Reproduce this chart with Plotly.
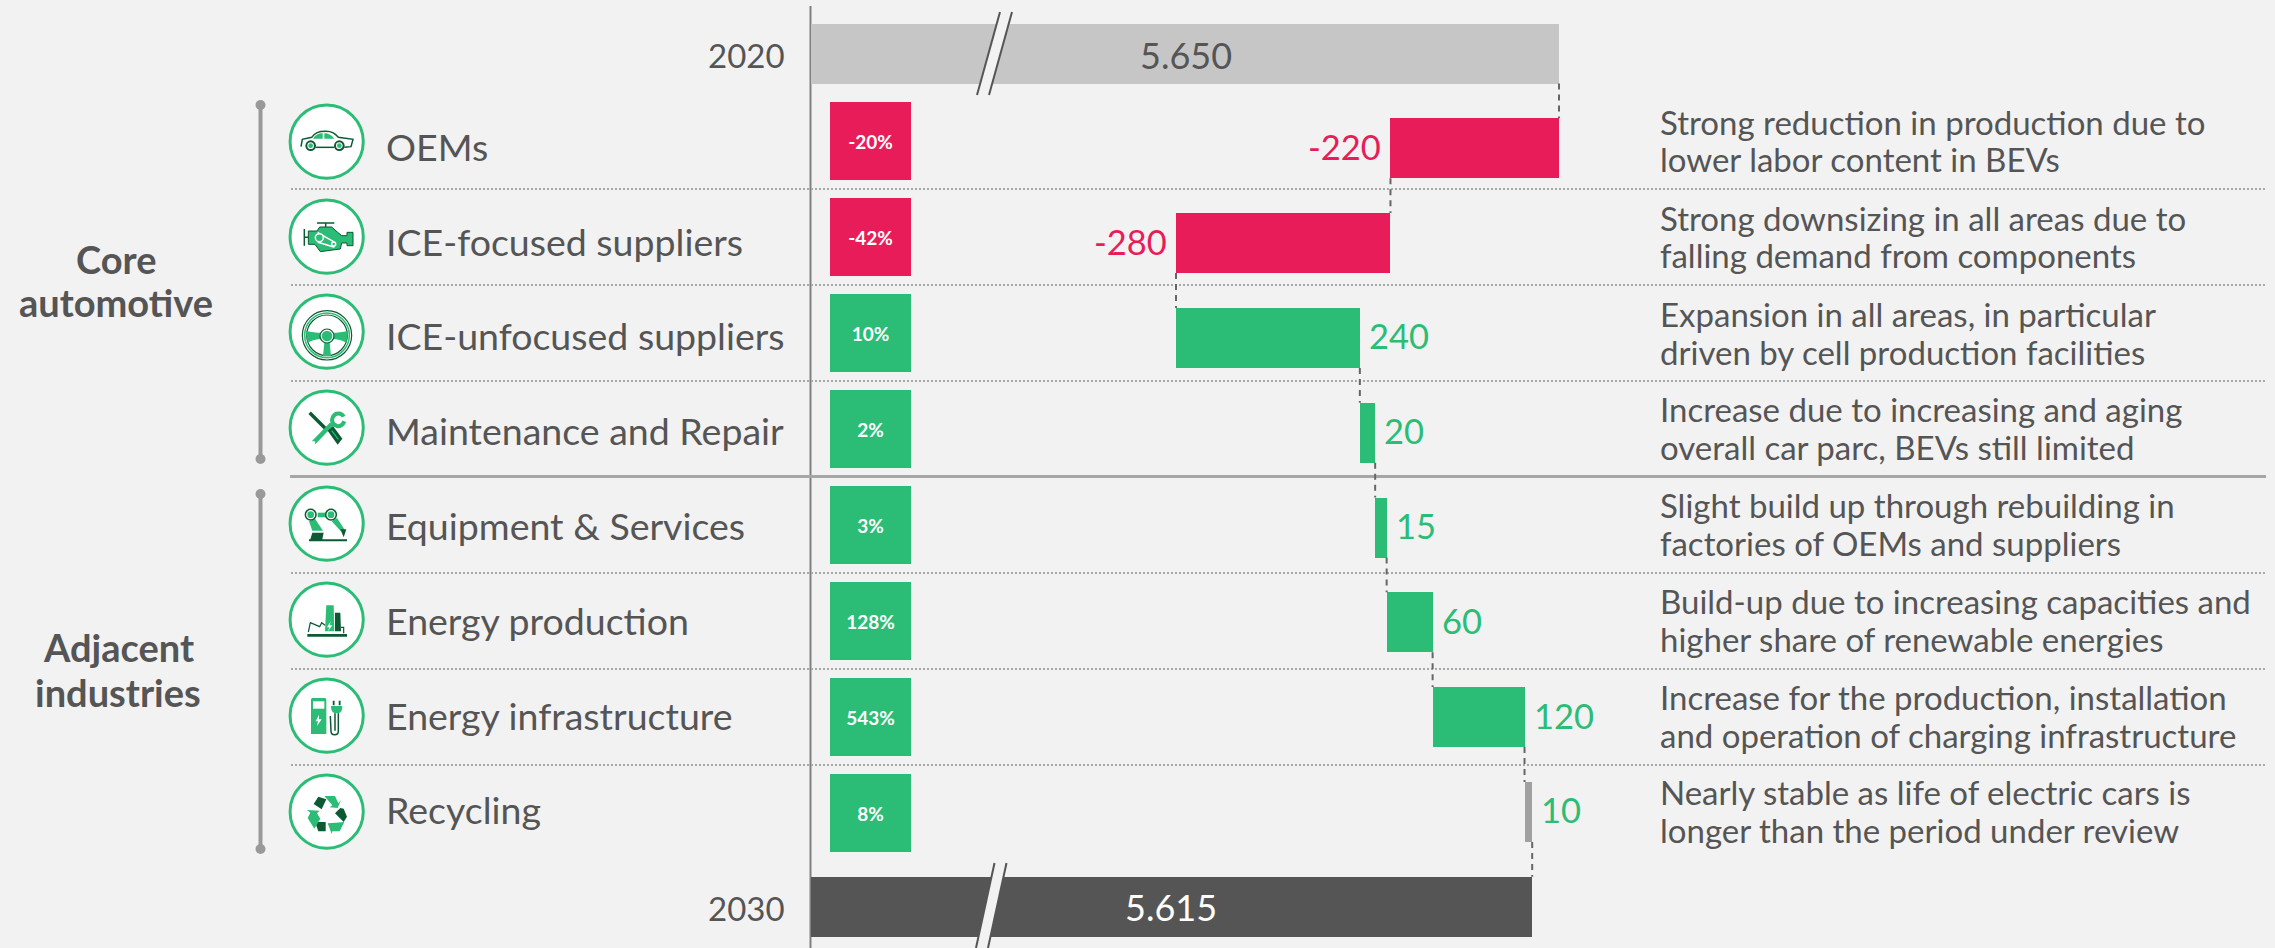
import re
import plotly.graph_objects as go

# ---------- data ----------
years = ["2020", "2030"]
totals = [5650, 5615]
total_labels = ["5.650", "5.615"]
categories = ["OEMs", "ICE-focused suppliers", "ICE-unfocused suppliers", "Maintenance and Repair",
              "Equipment &amp; Services", "Energy production", "Energy infrastructure", "Recycling"]
deltas = [-220, -280, 240, 20, 15, 60, 120, 10]
share_change = ["-20%", "-42%", "10%", "2%", "3%", "128%", "543%", "8%"]
comments = [
    ["Strong reduction in production due to", "lower labor content in BEVs"],
    ["Strong downsizing in all areas due to", "falling demand from components"],
    ["Expansion in all areas, in particular", "driven by cell production facilities"],
    ["Increase due to increasing and aging", "overall car parc, BEVs still limited"],
    ["Slight build up through rebuilding in", "factories of OEMs and suppliers"],
    ["Build-up due to increasing capacities and", "higher share of renewable energies"],
    ["Increase for the production, installation", "and operation of charging infrastructure"],
    ["Nearly stable as life of electric cars is", "longer than the period under review"],
]
groups = [["Core", "automotive"], ["Adjacent", "industries"]]

# ---------- style ----------
W, H = 2275, 948
BG = "#F2F2F2"; GREEN = "#2BBC76"; DARKG = "#0B5A33"; PINK = "#E81C58"
TXT = "#555555"; LIGHT = "#C6C6C6"; DARK = "#555555"; GREY = "#A0A0A0"
FONT = "Lato"
px_per_unit = 0.766
axis_start = 5650 - (1559 - 810.5) / px_per_unit
x_range = [5650 - 1559 / px_per_unit, 5650 + (W - 1559) / px_per_unit]
row_pitch, row_top = 94.8, 53.5
y_range = [(H - row_top) / row_pitch, -row_top / row_pitch]
half_bar = 30 / row_pitch
box_pitch, box_top = 96.0, 140.7
y2_range = [(H - box_top) / box_pitch, -box_top / box_pitch]

# ---------- waterfall ----------
n = len(categories)
starts, ends, running = [], [], totals[0]
for d in deltas:
    starts.append(running); running += d; ends.append(running)
rows = list(range(1, n + 1))
bar_colors = [PINK if d < 0 else GREEN for d in deltas]
bar_colors[-1] = GREY

fig = go.Figure()
fig.add_trace(go.Bar(y=[0, n + 1], x=[t - axis_start for t in totals], base=[axis_start] * 2,
                     orientation="h", width=2 * half_bar, marker=dict(color=[LIGHT, DARK], line_width=0),
                     showlegend=False, hoverinfo="skip"))
fig.add_trace(go.Bar(y=rows, x=deltas, base=starts, orientation="h", width=2 * half_bar,
                     marker=dict(color=bar_colors, line_width=0), showlegend=False))

# connectors
levels = [totals[0]] + ends
for i, lv in enumerate(levels):
    fig.add_trace(go.Scatter(x=[lv, lv], y=[i + half_bar, i + 1 - half_bar], mode="lines",
                             line=dict(color="#666666", width=2, dash="6px,5px"),
                             showlegend=False, hoverinfo="skip"))

# share-change boxes on a second, pixel-like x axis
fig.add_trace(go.Bar(y=list(range(n)), x=[81] * n, base=[830] * n, orientation="h", width=78 / box_pitch,
                     marker=dict(color=[PINK if s.startswith("-") else GREEN for s in share_change], line_width=0),
                     text=share_change, textposition="inside", insidetextanchor="middle", textangle=0,
                     constraintext="none", textfont=dict(family=FONT, size=19, color="white", weight="bold"),
                     xaxis="x2", yaxis="y2", showlegend=False))

# ---------- helpers ----------
shapes, ann = [], []
def px(x): return x / W
def py(y): return 1 - y / H
def line(x0, y0, x1, y1, color, width, dash="solid", layer="below"):
    shapes.append(dict(type="line", xref="paper", yref="paper", x0=px(x0), y0=py(y0), x1=px(x1), y1=py(y1),
                       line=dict(color=color, width=width, dash=dash), layer=layer))
def circle(cx, cy, r, fill="rgba(0,0,0,0)", color="rgba(0,0,0,0)", width=0):
    shapes.append(dict(type="circle", xref="paper", yref="paper", x0=px(cx - r), x1=px(cx + r),
                       y0=py(cy + r), y1=py(cy - r), fillcolor=fill, line=dict(color=color, width=width)))
def path(d, ox, oy, fill=None, color=None, width=0, s=1 / 3):
    toks = re.findall(r"[MLCQZ]|-?[\d.]+", d)
    out, is_x = [], True
    for t in toks:
        if t.isalpha():
            out.append(t); is_x = True
        else:
            v = float(t)
            out.append(f"{px(ox + v * s):.6f}" if is_x else f"{py(oy + v * s):.6f}")
            is_x = not is_x
    shapes.append(dict(type="path", xref="paper", yref="paper", path=" ".join(out),
                       fillcolor=fill or "rgba(0,0,0,0)",
                       line=dict(color=color or "rgba(0,0,0,0)", width=width)))
def text(x, y, s, size=36, color=TXT, anchor="left", bold=False):
    ann.append(dict(xref="paper", yref="paper", x=px(x), y=py(y), text=s, showarrow=False, xanchor=anchor,
                    yanchor="middle", align=anchor,
                    font=dict(family=FONT, size=size, color=color, weight="bold" if bold else "normal")))

# ---------- frame ----------
line(810.5, 6, 810.5, H, "#808080", 2)
for y in [189, 285, 381, 573, 669, 765]:
    line(291, y, 2266, y, "#A8A8A8", 2, "2px,2px")
line(290, 476.5, 2266, 476.5, "#A6A6A6", 3)
for y0, y1 in [(105, 459), (494, 849)]:
    line(260.5, y0, 260.5, y1, "#999999", 4, layer="above")
    circle(260.5, y0, 5, "#999999"); circle(260.5, y1, 5, "#999999")

# axis-break marks
for (xb, xt, yb, yt, c) in [(977, 1000, 95, 12, "#555555"), (976, 994.5, 948, 863, "#555555")]:
    path(f"M{xb} {yb} L{xt} {yt} L{xt + 12} {yt} L{xb + 12} {yb} Z", 0, 0, fill=BG, s=1)
    line(xb, yb, xt, yt, c, 2, layer="above"); line(xb + 12, yb, xt + 12, yt, c, 2, layer="above")

# ---------- texts ----------
text(787, 55, years[0], 33, anchor="right"); text(787, 908, years[1], 33, anchor="right")
text(1186, 55, total_labels[0], anchor="center")
text(1171, 907, total_labels[1], color="white", anchor="center")
text(116, 259, groups[0][0], 38, TXT, "center", True); text(116, 302, groups[0][1], 38, TXT, "center", True)
text(118, 647, groups[1][0], 38, TXT, "center", True); text(118, 692, groups[1][1], 38, TXT, "center", True)
comment_cy = [140.5, 236.5, 332.5, 428, 524, 620, 716, 811]
for i, (c, m) in enumerate(zip(categories, comments)):
    ann.append(dict(x=0, xref="paper", xanchor="left", xshift=384, y=rows[i], yref="y", yshift=2, text=c, showarrow=False,
                    font=dict(family=FONT, size=37.5, color=TXT), yanchor="middle"))
    text(1658, comment_cy[i] - 19, m[0], 33)
    text(1658, comment_cy[i] + 19, m[1], 33)
    neg = deltas[i] < 0
    ann.append(dict(x=ends[i], y=rows[i], xref="x", yref="y", yshift=2, text=str(deltas[i]), showarrow=False,
                    xanchor="right" if neg else "left", xshift=-7 if neg else 7, yanchor="middle",
                    font=dict(family=FONT, size=34.5, color=PINK if neg else GREEN)))

# ---------- icons (drawn in a 0-255 local frame, 1/3 px per unit) ----------
icon_y0 = [100, 195, 290, 386, 482, 578, 674, 770]
OX = 285
for y0 in icon_y0:
    circle(OX + 125 / 3, y0 + 125 / 3, 36.6, "white", GREEN, 3)
def C(u, v, r, ox, oy, **k):
    circle(ox + u / 3, oy + v / 3, r / 3, **k)

# car
o = icon_y0[0]
path("M48 140 L52 118 L80 112 C90 98 100 94 122 94 C142 94 150 100 160 112 L204 118 L198 140 L178 142", OX, o, color=DARKG, width=1.5)
path("M84 116 C92 104 100 100 113 100 L113 116 Z", OX, o, fill=GREEN)
path("M118 100 C130 100 138 104 148 116 L118 116 Z", OX, o, fill=GREEN)
path("M92 142 L148 142", OX, o, color=DARKG, width=1.5)
for u in (77, 163):
    C(u, 137, 13, OX, o, fill="white", color=DARKG, width=2); C(u, 137, 7, OX, o, fill=GREEN)
# engine
o = icon_y0[1]
path("M70 108 L96 108 L104 96 L140 96 L158 112 L170 122 L186 122 L186 112 L204 112 L204 152 L186 152 L186 144 L170 144 L166 162 L106 170 L90 148 L70 148 Z", OX, o, fill=GREEN, color=DARKG, width=1)
path("M96 84 L148 84 M122 84 L122 96 M58 102 L58 152 M58 127 L70 127", OX, o, color=DARKG, width=1.5)
path("M100 114 L146 140 L146 156 L100 142 Z", OX, o, color="white", width=1.5)
C(103, 128, 12, OX, o, color="white", width=1.5, fill=GREEN); C(146, 147, 6, OX, o, color="white", width=1.5, fill=GREEN)
# wheel
o = icon_y0[2]
C(126, 136, 74, OX, o, fill="white", color=DARKG, width=1.2)
C(126, 136, 67, OX, o, color=GREEN, width=1.5)
C(126, 136, 61, OX, o, color=DARKG, width=1.2)
path("M62 122 C80 126 95 128 108 128 L108 146 C90 148 76 152 68 158 Z", OX, o, fill=GREEN)
path("M190 122 C172 126 157 128 144 128 L144 146 C162 148 176 152 184 158 Z", OX, o, fill=GREEN)
path("M118 158 L134 158 L138 198 L114 198 Z", OX, o, fill=GREEN)
C(126, 138, 21, OX, o, fill="white", color=DARKG, width=1.2); C(126, 138, 16, OX, o, fill=GREEN)
# tools
o = icon_y0[3]
path("M74 80 L128 134", OX, o, color=DARKG, width=3.5)
path("M86 170 L140 114", OX, o, color=GREEN, width=4.5)
path("M176 92 C170 80 152 78 144 92 C138 104 142 116 156 120 C166 122 174 116 178 106", OX, o, color=GREEN, width=4)
path("M128 134 L144 120 L172 158 L158 176 Z", OX, o, fill=DARKG)
path("M140 134 L160 160", OX, o, color=GREEN, width=1.2)
C(86, 170, 5, OX, o, fill="white")
# robot
o = icon_y0[4]
path("M72 178 L186 178 L186 172 L112 172 L116 152 L82 152 L76 172 L72 172 Z", OX, o, fill=DARKG)
path("M72 118 L90 110 L114 146 L82 146 Z", OX, o, fill=GREEN)
path("M98 92 L124 92 L124 106 L98 106 Z", OX, o, fill=GREEN)
path("M140 118 L156 108 L178 142 L168 148 Z", OX, o, fill=GREEN)
path("M166 142 L184 142 L176 166 Z", OX, o, fill=DARKG)
for u in (77, 138):
    C(u, 98, 16, OX, o, fill="white", color=DARKG, width=1.5); C(u, 98, 10, OX, o, fill=GREEN)
# plant
o = icon_y0[5]
path("M67 168 L186 168 L186 176 L67 176 Z", OX, o, fill=DARKG)
path("M124 82 L146 82 L148 160 L120 160 Z", OX, o, fill=GREEN)
path("M150 104 L166 104 L168 160 L150 160 Z", OX, o, fill=DARKG)
path("M137 130 L126 148 L133 148 L129 160 L142 142 L134 142 Z", OX, o, fill="white")
path("M70 162 L76 134 L104 146 L110 134 L120 142 M168 148 L176 148 L176 166", OX, o, color=DARKG, width=1.2)
# charger
o = icon_y0[6]
path("M84 72 L118 72 C122 72 124 74 124 78 L124 180 L78 180 L78 78 C78 74 80 72 84 72 Z", OX, o, fill=GREEN)
path("M84 82 L118 82 L118 104 L84 104 Z", OX, o, fill="white")
path("M102 122 L92 142 L99 142 L96 156 L110 136 L102 136 Z", OX, o, fill="white")
path("M138 96 L172 96 C172 112 166 118 155 118 C144 118 138 112 138 96 Z", OX, o, fill=GREEN)
path("M146 80 L146 94 M164 80 L164 94", OX, o, color=DARKG, width=1.8)
path("M160 118 L160 172 C160 186 138 186 138 172 L136 126 M150 118 L150 170", OX, o, color=DARKG, width=1.5)
# recycle
o = icon_y0[7]
path("M86 102 L100 80 L124 88 L110 118 Z", OX, o, fill=DARKG)
path("M118 78 L150 78 L160 100 L168 90 L158 114 L134 112 L142 106 Z", OX, o, fill=GREEN)
path("M166 114 L176 116 L186 140 L176 156 L150 130 Z", OX, o, fill=DARKG)
path("M128 160 L152 158 L178 156 L164 184 L142 184 L140 192 Z", OX, o, fill=GREEN)
path("M90 156 L122 156 L122 184 L100 184 Z", OX, o, fill=DARKG)
path("M66 120 L104 122 L96 130 L106 146 L88 176 L68 144 L76 128 Z", OX, o, fill=GREEN)

no_axis = dict(showgrid=False, zeroline=False, showticklabels=False, ticks="", showline=False, fixedrange=True)
fig.update_layout(
    width=W, height=H, autosize=False, margin=dict(l=0, r=0, t=0, b=0),
    paper_bgcolor=BG, plot_bgcolor=BG, barmode="overlay", bargap=0, showlegend=False,
    font=dict(family=FONT, color=TXT), shapes=shapes, annotations=ann,
    xaxis=dict(range=x_range, domain=[0, 1], **no_axis),
    yaxis=dict(range=y_range, domain=[0, 1], **no_axis),
    xaxis2=dict(range=[0, W], overlaying="x", **no_axis),
    yaxis2=dict(range=y2_range, overlaying="y", **no_axis),
)
fig.write_html("out.html", config=dict(displayModeBar=False),
               post_script="document.body.style.margin='0';document.body.style.overflow='hidden';document.body.style.background='#F2F2F2';")
